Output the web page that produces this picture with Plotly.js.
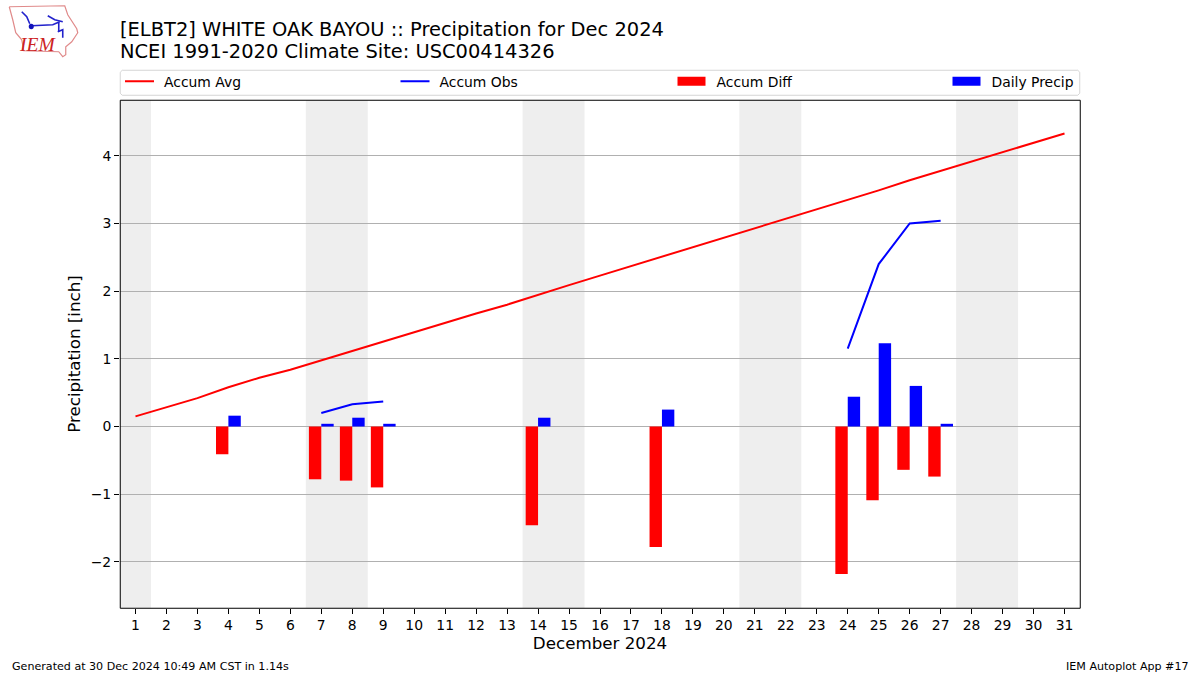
<!DOCTYPE html>
<html>
<head>
<meta charset="utf-8">
<script src="https://cdn.plot.ly/plotly-3.0.1.min.js"></script>
<style>html,body{margin:0;padding:0;background:#fff}</style>
</head>
<body>
<div id="chart" style="width:1200px;height:675px"></div>
<script>
const days = Array.from({length: 31}, (_, i) => i + 1);
const accumAvg = [0.15,0.29,0.42,0.58,0.72,0.84,0.98,1.12,1.26,1.40,1.54,1.67,1.80,1.95,2.09,2.23,2.37,2.51,2.65,2.78,2.92,3.06,3.20,3.34,3.49,3.64,3.78,3.92,4.06,4.20,4.33];
const accumObs = [null,null,null,null,null,null,0.20,0.33,0.37,null,null,null,null,null,null,null,null,null,null,null,null,null,null,1.15,2.40,3.00,3.04,null,null,null,null];
const diffDays = [4,7,8,9,14,18,24,25,26,27];
const accumDiff = [-0.41,-0.78,-0.80,-0.90,-1.46,-1.78,-2.18,-1.09,-0.64,-0.74];
const dailyPrecip = [0.16,0.04,0.13,0.04,0.13,0.25,0.44,1.23,0.60,0.04];
const weekendSpans = [[0.5,1.5],[6.5,8.5],[13.5,15.5],[20.5,22.5],[27.5,29.5]];
const yTicks = [-2,-1,0,1,2,3,4];

const font = 'DejaVu Sans, sans-serif';
const L = 120.25, R = 1080.25, T = 100.25, B = 608.25;
const W = 1200, H = 675;
const px = x => (x - L) / (R - L);
const py = y => (B - y) / (B - T);
const path = pts => pts.map((p, i) => (i ? 'L' : 'M') + px(p[0]).toFixed(5) + ',' + py(p[1]).toFixed(5)).join(' ');

const logoOutline = [[9.5,7],[65,6],[68,15],[77,29],[78,33],[72,42],[66,47],[66,55],[63,57],[59,52],[24,51],[22,40],[16,33],[13,20],[9.5,7]];
const logoBlue = [
  [[32,26],[53,25],[60,22]],
  [[22,12],[27,17],[30,24]],
  [[48,16],[55,20],[63,22]],
  [[59,23],[59,32]],
  [[58,32],[63,30],[63,38]]
];

const shapes = [];
weekendSpans.forEach(s => shapes.push({type:'rect',xref:'x',yref:'paper',x0:s[0],x1:s[1],y0:0,y1:1,fillcolor:'#eeeeee',line:{width:0},layer:'below'}));
shapes.push({type:'path',xref:'paper',yref:'paper',path:
  path([[122.5,70.5],[1078,70.5]])+' '+path([[1080,72.5],[1080,93.5]]).replace('M','L')+' '+path([[1078,95.5],[122.5,95.5]]).replace('M','L')+' '+path([[120.5,93.5],[120.5,72.5]]).replace('M','L')+' Z',
  line:{color:'#d5d5d5',width:1},fillcolor:'#ffffff',layer:'below'});
shapes.push({type:'path',xref:'paper',yref:'paper',path:path(logoOutline),line:{color:'#e08a8a',width:1.2}});
logoBlue.forEach(p => shapes.push({type:'path',xref:'paper',yref:'paper',path:path(p),line:{color:'#2222cc',width:1.6}}));
shapes.push({type:'circle',xref:'paper',yref:'paper',x0:px(29),x1:px(34),y0:py(29.5),y1:py(24),fillcolor:'#1111bb',line:{width:0}});
shapes.push({type:'rect',xref:'paper',yref:'paper',x0:px(120.5),x1:px(1080.5),y0:py(608.5),y1:py(100.5),line:{color:'#000',width:1},fillcolor:'rgba(0,0,0,0)',layer:'above'});

const traces = [
  {type:'scatter',mode:'lines',name:'Accum Avg',x:days,y:accumAvg,line:{color:'#ff0000',width:2},legend:'legend'},
  {type:'scatter',mode:'lines',name:'Accum Obs',x:days,y:accumObs,line:{color:'#0000ff',width:2},connectgaps:false,legend:'legend2'},
  {type:'bar',name:'Accum Diff',x:diffDays,y:accumDiff,width:0.4,offset:-0.4,marker:{color:'#ff0000',line:{width:0}},legend:'legend3'},
  {type:'bar',name:'Daily Precip',x:diffDays,y:dailyPrecip,width:0.4,offset:0,marker:{color:'#0000ff',line:{width:0}},legend:'legend4'}
];

const legendAt = startPx => ({orientation:'h',x:(startPx-126)/960,xanchor:'left',y:1+(T-66)/(B-T),yanchor:'top',bgcolor:'rgba(0,0,0,0)',
  font:{family:font,size:13.9,color:'#000'},itemwidth:34});

const layout = {
  width:W,height:H,
  margin:{l:L,r:W-R,t:T,b:H-B,autoexpand:false},
  paper_bgcolor:'#ffffff',plot_bgcolor:'rgba(0,0,0,0)',
  font:{family:font,size:14,color:'#000000'},
  barmode:'overlay',
  showlegend:true,
  title:{text:'[ELBT2] WHITE OAK BAYOU :: Precipitation for Dec 2024',font:{family:font,size:19.46,color:'#000'},
    x:120/W,xref:'container',xanchor:'left',y:1-29/H,yref:'container',yanchor:'middle'},
  legend:legendAt(126),legend2:legendAt(401.5),legend3:legendAt(678.5),legend4:legendAt(953.5),
  xaxis:{range:[0.5,31.5],tickmode:'array',tickvals:days,ticktext:days.map(String),showgrid:false,zeroline:false,
    ticks:'outside',ticklen:5,tickcolor:'#000',tickwidth:1,showline:false,ticklabelstandoff:-1,
    tickfont:{family:font,size:13.9},title:{text:'December 2024',font:{family:font,size:16.7},standoff:5},automargin:false},
  yaxis:{range:[-2.682,4.825],tickmode:'array',tickvals:yTicks,showgrid:true,gridcolor:'#b0b0b0',gridwidth:1,zeroline:true,zerolinecolor:'#b0b0b0',zerolinewidth:1,
    ticks:'outside',ticklen:5,tickcolor:'#000',tickwidth:1,showline:false,
    tickfont:{family:font,size:13.9},title:{text:'Precipitation [inch]',font:{family:font,size:16.7},standoff:5},automargin:false},
  shapes:shapes,
  annotations:[
    {text:'NCEI 1991-2020 Climate Site: USC00414326',xref:'paper',yref:'paper',x:px(120),y:py(52),xanchor:'left',yanchor:'middle',showarrow:false,font:{family:font,size:19.46,color:'#000'},xshift:-2},
    {text:'Generated at 30 Dec 2024 10:49 AM CST in 1.14s',xref:'paper',yref:'paper',x:px(12),y:py(667),xanchor:'left',yanchor:'middle',showarrow:false,font:{family:font,size:11.1,color:'#000'},xshift:-2},
    {text:'IEM Autoplot App #17',xref:'paper',yref:'paper',x:px(1188),y:py(667),xanchor:'right',yanchor:'middle',showarrow:false,font:{family:font,size:11.1,color:'#000'},xshift:3},
    {text:'<i>IEM</i>',xref:'paper',yref:'paper',x:px(37.5),y:py(45),xanchor:'center',yanchor:'middle',showarrow:false,font:{family:'Liberation Serif, serif',size:19.5,color:'#cc2222'}}
  ]
};

Plotly.newPlot('chart',traces,layout,{staticPlot:true,displayModeBar:false}).then(gd => {
  gd.querySelectorAll('g.legendpoints path').forEach(p => p.setAttribute('d','M-17,-4.5H11V4.5H-17Z'));
  gd.querySelectorAll('.legendlines path').forEach(p => p.setAttribute('d','M5,0h29'));
});
</script>
</body>
</html>
